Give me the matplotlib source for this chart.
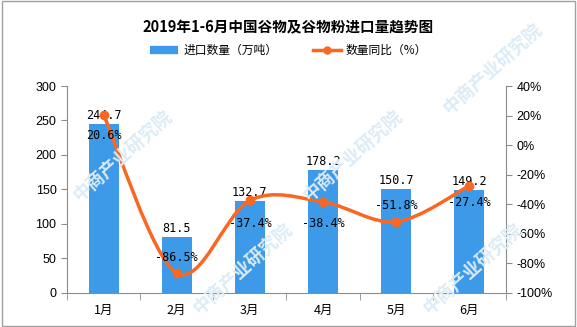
import matplotlib.pyplot as plt
import numpy as np
from matplotlib.path import Path
from matplotlib.patches import PathPatch, Rectangle
from matplotlib.lines import Line2D

plt.rcParams['font.family'] = ['Noto Sans CJK SC', 'DejaVu Sans']

months = ['1月', '2月', '3月', '4月', '5月', '6月']
imports = [244.7, 81.5, 132.7, 178.2, 150.7, 149.2]
yoy = [20.6, -86.5, -37.4, -38.4, -51.8, -27.4]
# label offset (pixels) of each yoy label relative to its point
yoy_dy = [-21, 16, -23, -22, 16, -17]

bar_color = '#3d9ae8'
line_color = '#fa6723'
axis_color = '#8c8c8c'

W, H = 577, 327
fig = plt.figure(figsize=(W / 100, H / 100), dpi=100)
fig.patches.append(Rectangle((0.004, 0.004), 0.992, 0.992, transform=fig.transFigure,
                             fill=False, edgecolor='#a0a0a0', lw=1))

# faint diagonal watermark (bottom-left corner of each text, in pixels from top-left)
for px, py in [(70, 205), (300, 205), (190, 318), (420, 318), (440, 118)]:
    fig.text(px / W, 1 - py / H, '中商产业研究院', rotation=42, fontsize=13,
             fontweight='bold', color='#dcebf6', ha='left', va='bottom', zorder=0)

ax = fig.add_axes([0.116, 0.104, 0.761, 0.633])
ax.patch.set_alpha(0)
x = np.arange(len(months))
ax.bar(x, imports, width=0.41, color=bar_color, zorder=2)
ax.set_xlim(-0.5, len(months) - 0.5)
ax.set_ylim(0, 300)
ax.set_yticks(range(0, 301, 50))
ax.set_xticks(x)
ax.set_xticklabels(months, fontsize=9)
ax.set_xticks(np.arange(-0.5, len(months)), minor=True)
ax.tick_params(axis='x', which='major', length=0, pad=8)
ax.tick_params(axis='x', which='minor', length=5, color=axis_color)
ax.tick_params(axis='y', length=4, color=axis_color, labelsize=9)
for lab in ax.get_yticklabels():
    lab.set_family('Liberation Sans')
for s in ['top', 'right']:
    ax.spines[s].set_visible(False)
for s in ['left', 'bottom']:
    ax.spines[s].set_color(axis_color)

for xi, v in zip(x, imports):
    ax.annotate(f'{v}', (xi, v), xytext=(0, 1.5), textcoords='offset points',
                ha='center', va='bottom', fontsize=8.5, family='DejaVu Sans Mono', zorder=5)

ax2 = ax.twinx()
ax2.set_ylim(-100, 40)
ax2.set_yticks(range(-100, 41, 20))
ax2.set_yticklabels([f'{t}%' for t in range(-100, 41, 20)])
ax2.tick_params(axis='y', length=4, color=axis_color, labelsize=9)
for lab in ax2.get_yticklabels():
    lab.set_family('Liberation Sans')
for s in ['top', 'left', 'bottom']:
    ax2.spines[s].set_visible(False)
ax2.spines['right'].set_color(axis_color)

# smoothed line through the yoy points (cubic Bezier, Catmull-Rom tangents)
pts = np.column_stack([x, yoy]).astype(float)
verts = [pts[0]]
codes = [Path.MOVETO]
for i in range(len(pts) - 1):
    p0 = pts[max(i - 1, 0)]
    p1 = pts[i]
    p2 = pts[i + 1]
    p3 = pts[min(i + 2, len(pts) - 1)]
    verts += [p1 + (p2 - p0) / 6, p2 - (p3 - p1) / 6, p2]
    codes += [Path.CURVE4] * 3
ax2.add_patch(PathPatch(Path(verts, codes), fill=False, edgecolor=line_color, lw=2.5,
                        capstyle='round', zorder=3))
ax2.plot(x, yoy, 'o', color=line_color, ms=6, zorder=4)

for xi, v, dy in zip(x, yoy, yoy_dy):
    ax2.annotate(f'{v}%', (xi, v), xytext=(0, dy * 0.72), textcoords='offset points',
                 ha='center', va='center', fontsize=8.5, family='DejaVu Sans Mono', zorder=5)

fig.text(0.5, 0.915, '2019年1-6月中国谷物及谷物粉进口量趋势图', ha='center', va='center',
         fontsize=10.5, fontweight='bold')

handles = [Line2D([], [], color=bar_color, lw=6, solid_capstyle='butt'),
           Line2D([], [], color=line_color, lw=2.5, marker='o', ms=5)]
fig.legend(handles, ['进口数量（万吨）', '数量同比（%）'], loc='center',
           bbox_to_anchor=(0.5, 0.845), ncol=2, frameon=False, fontsize=8.5,
           handlelength=2.4, columnspacing=3, handletextpad=0.4)

fig.savefig('out.png', dpi=100)
